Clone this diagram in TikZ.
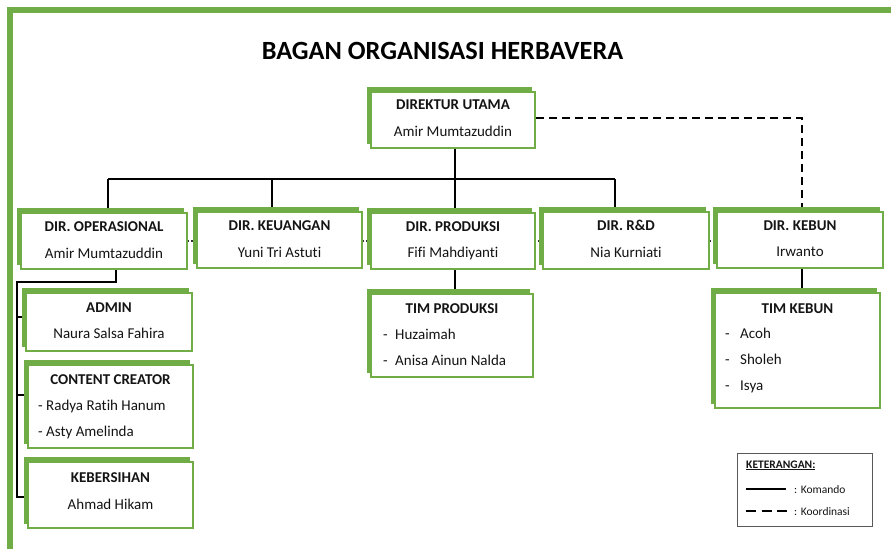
\documentclass[tikz,border=0pt]{standalone}
\usepackage{fontspec}
\setmainfont[Ligatures=NoCommon]{Carlito}
\usetikzlibrary{shadows,backgrounds}
\definecolor{grn}{HTML}{70AD47}
\definecolor{ink}{HTML}{141414}
\begin{document}
\begin{tikzpicture}[x=1pt,y=-1pt,
  card/.style={draw=grn, line width=2pt, fill=white, inner sep=0pt,
    copy shadow={shadow xshift=-4pt, shadow yshift=5pt, fill=grn, draw=grn, line width=1pt}},
  ttl/.style={font=\bfseries\fontsize{15}{17}\selectfont, text=ink, anchor=base, inner sep=0pt},
  nm/.style={font=\fontsize{15}{17}\selectfont, text=ink, anchor=base, inner sep=0pt},
  itm/.style={font=\fontsize{15}{17}\selectfont, text=ink, anchor=base west, inner sep=0pt},
  cmd/.style={draw=black, line width=1.8pt},
  crd/.style={draw=black, line width=1.8pt, dash pattern=on 8pt off 5pt},
  dots/.style={draw=black!80, line width=1.3pt, dotted},
  lgd/.style={font=\fontsize{11.5}{13}\selectfont, text=ink, anchor=base west, inner sep=0pt}
]
\useasboundingbox (0,0) rectangle (891,549);

% title
\node[font=\bfseries\fontsize{26.3}{30}\selectfont, anchor=base, inner sep=0pt] (title) at (442.5,59) {BAGAN ORGANISASI HERBAVERA};

% boxes
\node[card, minimum width=164pt, minimum height=56pt] (du) at (453,120) {};
\node[card, minimum width=166pt, minimum height=56pt] (op) at (104,241) {};
\node[card, minimum width=165pt, minimum height=56pt] (ke) at (279.5,240) {};
\node[card, minimum width=164pt, minimum height=56pt] (pr) at (453,241) {};
\node[card, minimum width=166pt, minimum height=57pt] (rd) at (626,240.5) {};
\node[card, minimum width=166pt, minimum height=56pt] (kb) at (800,240) {};
\node[card, minimum width=166pt, minimum height=58pt] (ad) at (109,322) {};
\node[card, minimum width=165pt, minimum height=83pt] (cc) at (110.5,406.5) {};
\node[card, minimum width=165pt, minimum height=66pt] (kh) at (110.5,495) {};
\node[card, minimum width=162pt, minimum height=83pt] (tp) at (452,335.5) {};
\node[card, minimum width=165pt, minimum height=115pt] (tk) at (797.5,350.5) {};

% texts
\node[ttl] (du-t) at (453,109.5) {DIREKTUR UTAMA};
\node[nm]  (du-n) at (453,136.5) {Amir Mumtazuddin};
\node[ttl] (op-t) at (104,231) {DIR. OPERASIONAL};
\node[nm]  (op-n) at (104,258) {Amir Mumtazuddin};
\node[ttl] (ke-t) at (279.5,230) {DIR. KEUANGAN};
\node[nm]  (ke-n) at (279.5,257) {Yuni Tri Astuti};
\node[ttl] (pr-t) at (453,231) {DIR. PRODUKSI};
\node[nm]  (pr-n) at (453,257) {Fifi Mahdiyanti};
\node[ttl] (rd-t) at (626,230) {DIR. R\&D};
\node[nm]  (rd-n) at (626,257) {Nia Kurniati};
\node[ttl] (kb-t) at (800,230) {DIR. KEBUN};
\node[nm]  (kb-n) at (800,256) {Irwanto};
\node[ttl] (ad-t) at (109,312) {ADMIN};
\node[nm]  (ad-n) at (109,338) {Naura Salsa Fahira};
\node[ttl] (cc-t) at (110.5,384) {CONTENT CREATOR};
\node[itm] (cc-1) at (38,410) {\makebox[8pt][l]{-}Radya Ratih Hanum};
\node[itm] (cc-2) at (38,436) {\makebox[8pt][l]{-}Asty Amelinda};
\node[ttl] (kh-t) at (110.5,482) {KEBERSIHAN};
\node[nm]  (kh-n) at (110.5,509) {Ahmad Hikam};
\node[ttl] (tp-t) at (452,313) {TIM PRODUKSI};
\node[itm] (tp-1) at (383,339) {\makebox[12pt][l]{-}Huzaimah};
\node[itm] (tp-2) at (383,365) {\makebox[12pt][l]{-}Anisa Ainun Nalda};
\node[ttl] (tk-t) at (797.5,313) {TIM KEBUN};
\node[itm] (tk-1) at (725,338) {\makebox[15pt][l]{-}Acoh};
\node[itm] (tk-2) at (725,364) {\makebox[15pt][l]{-}Sholeh};
\node[itm] (tk-3) at (725,390) {\makebox[15pt][l]{-}Isya};

% legend
\node[draw=black!65, line width=0.9pt, minimum width=135pt, minimum height=73pt, inner sep=0pt] (lg) at (804.5,489.5) {};
\node[lgd, font=\bfseries\fontsize{11.5}{13}\selectfont] (lg-t) at (746,468) {\underline{KETERANGAN:}};
\coordinate (lg-a1) at (746,489);
\coordinate (lg-a2) at (786,489);
\coordinate (lg-b1) at (746,511);
\coordinate (lg-b2) at (787,511);
\node[lgd] (lg-k) at (794,493) {: Komando};
\node[lgd] (lg-c) at (794,515) {: Koordinasi};
\draw[line width=2.4pt] (lg-a1) -- (lg-a2);
\draw[line width=2.4pt, dash pattern=on 10pt off 5.5pt] (lg-b1) -- (lg-b2);

% connectors
\begin{pgfonlayer}{background}
  \draw[grn, line width=5.5pt] (891,10) -- (10,10) -- (10,549);
  \coordinate (j) at (455,179);
  \coordinate (b1) at (108,179);
  \coordinate (b2) at (272,179);
  \coordinate (b4) at (615,179);
  \draw[cmd] (du.south -| j) -- (j);
  \draw[cmd] (b1) -- (b4);
  \draw[cmd] (b1) -- (b1 |- op.north);
  \draw[cmd] (b2) -- (b2 |- ke.north);
  \draw[cmd] (j) -- (j |- pr.north);
  \draw[cmd] (b4) -- (b4 |- rd.north);
  \coordinate (dc) at (802,118);
  \draw[crd] (du.east |- dc) -- (dc) -- (dc |- kb.north);
  \draw[dots] (op.east |- 0,241) -- (kb.west |- 0,241);
  \draw[cmd] (pr.south -| j) -- (j |- tp.north);
  \draw[cmd] (kb.south -| dc) -- (dc |- tk.north);
  \coordinate (l0) at (116,282);
  \coordinate (l1) at (17,282);
  \coordinate (la) at (24,317);
  \coordinate (lb) at (24,395);
  \coordinate (lc) at (24,497);
  \draw[cmd] (op.south -| l0) -- (l0) -- (l1) -- (l1 |- lc) -- (lc);
  \draw[cmd] (l1 |- la) -- (la);
  \draw[cmd] (l1 |- lb) -- (lb);
\end{pgfonlayer}
\end{tikzpicture}
\end{document}
